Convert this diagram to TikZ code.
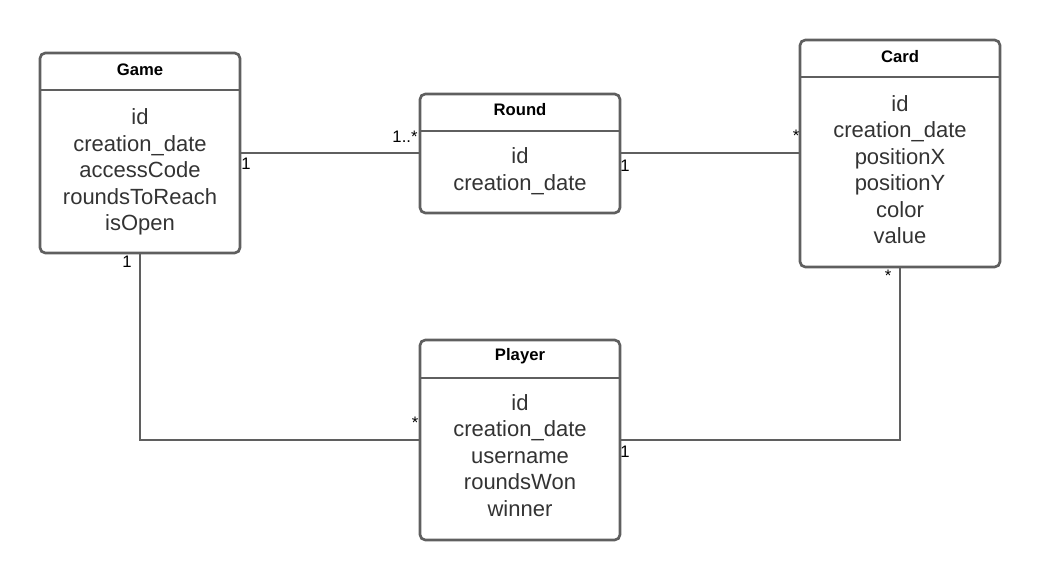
\documentclass[tikz,border=0pt]{standalone}
\usepackage{fontspec}
\setmainfont{Liberation Sans}
\definecolor{umlline}{HTML}{5F5F5F}
\definecolor{umltext}{HTML}{333333}
\tikzset{
  classbox/.style={draw=umlline, line width=2pt, rounded corners=4pt, minimum width=150pt, inner sep=0pt, outer sep=0pt},
  classtitle/.style={font=\bfseries\fontsize{12.5}{15}\selectfont, text=black},
  classattrs/.style={align=center, font=\fontsize{16.5}{19.9}\selectfont, text=umltext, inner sep=0pt},
  divider/.style={draw=umlline, line width=2pt},
  assoc/.style={draw=umlline, line width=1.5pt},
  mult/.style={font=\fontsize{12.5}{15}\selectfont, text=black, anchor=base, inner sep=0pt}
}
\begin{document}
\begin{tikzpicture}[x=0.75pt,y=-0.75pt]
\useasboundingbox (0,0) rectangle (1040,580);
\node[classbox, minimum height=150pt] (game) at (140,153) {};
\node[classtitle] (gametitle) at (140,70) {Game};
\draw[divider] (game.west |- 0,90) -- (game.east |- 0,90);
\node[classattrs] (gameattrs) at (140,172) {id\\creation\_date\\accessCode\\roundsToReach\\isOpen};
\node[classbox, minimum height=89.25pt] (round) at (520,153.5) {};
\node[classtitle] (roundtitle) at (520,110) {Round};
\draw[divider] (round.west |- 0,131) -- (round.east |- 0,131);
\node[classattrs] (roundattrs) at (520,171) {id\\creation\_date};
\node[classbox, minimum height=170.25pt] (card) at (900,153.5) {};
\node[classtitle] (cardtitle) at (900,57) {Card};
\draw[divider] (card.west |- 0,77) -- (card.east |- 0,77);
\node[classattrs] (cardattrs) at (900,169.5) {id\\creation\_date\\positionX\\positionY\\color\\value};
\node[classbox, minimum height=150pt] (player) at (520,440) {};
\node[classtitle] (playertitle) at (520,356) {Player};
\draw[divider] (player.west |- 0,378) -- (player.east |- 0,378);
\node[classattrs] (playerattrs) at (520,455.5) {id\\creation\_date\\username\\roundsWon\\winner};
\draw[assoc] (game.east) -- (game.east -| round.west);
\draw[assoc] (round.east) -- (round.east -| card.west);
\draw[assoc] (game.south) |- (player.west);
\draw[assoc] (player.east) -| (card.south);
\node[mult] (gameroundA) at (246,170) {1};
\node[mult] (gameroundB) at (405,143) {1..*};
\node[mult] (roundcardA) at (625,172) {1};
\node[mult] (roundcardB) at (796,142) {*};
\node[mult] (gameplayerA) at (127,268) {1};
\node[mult] (gameplayerB) at (415,429) {*};
\node[mult] (playercardA) at (625,458) {1};
\node[mult] (playercardB) at (888,282) {*};
\end{tikzpicture}
\end{document}
